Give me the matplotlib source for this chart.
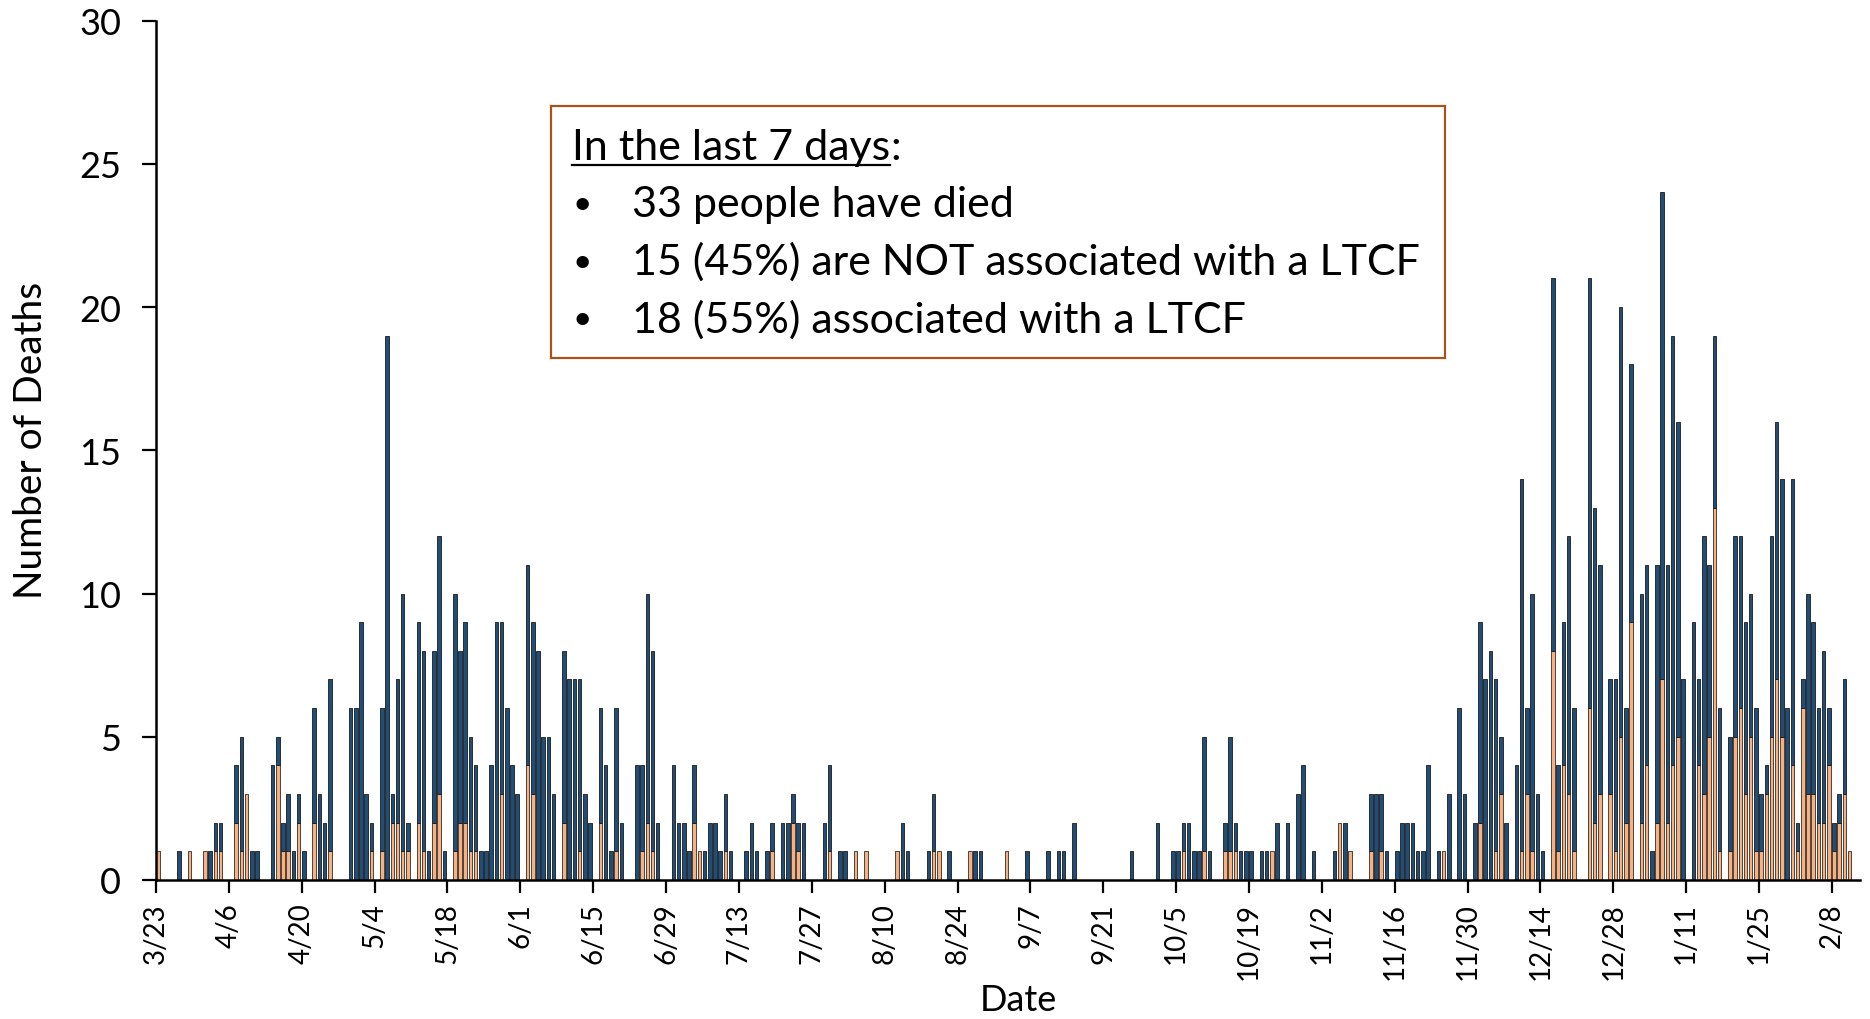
import matplotlib
matplotlib.use("Agg")
import matplotlib.pyplot as plt
from matplotlib.lines import Line2D
from matplotlib.patches import Rectangle
import numpy as np

plt.rcParams['font.family'] = ['Lato', 'DejaVu Sans']

# one row per two weeks, first row starts 3/23 (day 0)
# deaths NOT associated with a LTCF (orange, bottom of stack)
not_ltcf = [
    1, 0, 0, 0, 0, 0, 1, 0, 0, 1, 0, 1, 1, 0,
    0, 2, 1, 3, 0, 0, 0, 0, 0, 4, 1, 1, 0, 2,
    0, 0, 2, 0, 0, 1, 0, 0, 0, 0, 0, 0, 0, 1,
    0, 1, 0, 2, 2, 1, 1, 0, 2, 1, 0, 2, 3, 0,
    0, 1, 2, 2, 1, 1, 0, 0, 0, 0, 3, 0, 0, 0,
    0, 4, 3, 0, 0, 0, 0, 0, 2, 0, 0, 1, 0, 0,
    0, 2, 0, 0, 1, 0, 0, 0, 0, 1, 2, 1, 0, 0,
    0, 0, 0, 0, 0, 2, 1, 0, 0, 0, 0, 1, 0, 0,
    0, 0, 0, 0, 0, 0, 1, 0, 0, 0, 2, 1, 0, 0,
    0, 0, 0, 1, 0, 0, 0, 0, 1, 0, 1, 0, 0, 0,
    0, 0, 1, 0, 0, 0, 0, 0, 0, 1, 1, 0, 0, 0,
    0, 0, 1, 0, 0, 0, 0, 0, 0, 1, 0, 0, 0, 0,
    0, 0, 0, 0, 0, 0, 0, 0, 0, 0, 0, 0, 0, 0,
    0, 0, 0, 0, 0, 0, 0, 0, 0, 0, 0, 0, 0, 0,
    0, 1, 0, 0, 0, 1, 0, 0, 0, 1, 1, 1, 0, 0,
    0, 0, 0, 0, 1, 0, 0, 0, 0, 0, 0, 0, 0, 0,
    0, 0, 0, 2, 0, 1, 0, 0, 0, 1, 0, 1, 0, 0,
    0, 0, 0, 0, 0, 0, 0, 0, 0, 1, 0, 0, 0, 0,
    0, 0, 2, 0, 0, 1, 3, 0, 0, 0, 1, 3, 1, 0,
    0, 0, 8, 1, 4, 3, 1, 0, 0, 6, 2, 3, 0, 3,
    1, 5, 2, 9, 0, 2, 4, 0, 2, 7, 2, 4, 5, 0,
    0, 0, 4, 3, 5, 13, 1, 0, 1, 5, 6, 3, 5, 1,
    1, 3, 5, 7, 5, 0, 4, 1, 6, 3, 3, 2, 2, 4,
    1, 2, 3, 1,
]

# deaths associated with a LTCF (navy, top of stack)
ltcf = [
    0, 0, 0, 0, 1, 0, 0, 0, 0, 0, 1, 1, 1, 0,
    0, 2, 4, 0, 1, 1, 0, 0, 4, 1, 1, 2, 1, 1,
    1, 0, 4, 3, 2, 6, 0, 0, 0, 6, 6, 9, 3, 1,
    0, 5, 19, 1, 5, 9, 1, 0, 7, 7, 1, 6, 9, 1,
    0, 9, 6, 7, 4, 3, 1, 1, 4, 9, 6, 6, 4, 3,
    0, 7, 6, 8, 5, 5, 3, 0, 6, 7, 7, 6, 3, 2,
    0, 4, 4, 1, 5, 2, 0, 0, 4, 3, 8, 7, 2, 0,
    0, 4, 2, 2, 1, 2, 0, 1, 2, 2, 1, 2, 1, 0,
    0, 1, 2, 1, 0, 1, 1, 0, 2, 2, 1, 1, 2, 0,
    0, 0, 2, 3, 0, 1, 1, 0, 0, 0, 0, 0, 0, 0,
    0, 0, 0, 2, 1, 0, 0, 0, 1, 2, 0, 0, 1, 0,
    0, 0, 0, 1, 1, 0, 0, 0, 0, 0, 0, 0, 0, 1,
    0, 0, 0, 1, 0, 1, 1, 0, 2, 0, 0, 0, 0, 0,
    0, 0, 0, 0, 0, 1, 0, 0, 0, 0, 2, 0, 0, 1,
    1, 1, 2, 1, 1, 4, 1, 0, 0, 1, 4, 1, 1, 1,
    1, 0, 1, 1, 0, 2, 0, 2, 0, 3, 4, 0, 1, 0,
    0, 0, 1, 0, 2, 0, 0, 0, 0, 2, 3, 2, 1, 0,
    1, 2, 2, 2, 1, 1, 4, 0, 1, 0, 3, 0, 6, 3,
    0, 2, 7, 7, 8, 6, 2, 2, 0, 4, 13, 3, 9, 3,
    1, 0, 13, 3, 5, 9, 5, 0, 0, 15, 11, 8, 0, 4,
    6, 15, 4, 9, 0, 8, 7, 1, 9, 17, 9, 15, 11, 7,
    0, 9, 3, 9, 6, 6, 5, 0, 4, 7, 6, 6, 5, 5,
    2, 1, 7, 9, 9, 6, 10, 1, 1, 7, 6, 4, 6, 2,
    1, 1, 4, 0,
]

tick_labels = ['3/23', '4/6', '4/20', '5/4', '5/18', '6/1', '6/15', '6/29',
               '7/13', '7/27', '8/10', '8/24', '9/7', '9/21', '10/5', '10/19',
               '11/2', '11/16', '11/30', '12/14', '12/28', '1/11', '1/25', '2/8']

box_title = "In the last 7 days"
box_lines = ["33 people have died",
             "15 (45%) are NOT associated with a LTCF",
             "18 (55%) associated with a LTCF"]

NAVY = '#1F4E79'
ORANGE = '#F4B183'
W, H = 1870, 1020

fig = plt.figure(figsize=(W / 100, H / 100), dpi=100)
ax = fig.add_axes([156 / W, 139 / H, 1704 / W, 859.5 / H])

lo = np.array(not_ltcf)
hi = np.array(ltcf)
days = np.arange(len(lo)) + 0.4

# skip empty days so zero-height bars don't leave edge marks
m = lo > 0
ax.bar(days[m], lo[m], width=0.68, color=ORANGE, edgecolor='#3a2a20', linewidth=0.6, zorder=2)
m = hi > 0
ax.bar(days[m], hi[m], bottom=lo[m], width=0.68, color=NAVY, edgecolor='#1a1a1a', linewidth=0.6, zorder=2)

ax.set_xlim(0, 327.4)
ax.set_ylim(0, 30)
ax.set_yticks(range(0, 31, 5))
ax.set_xticks(np.arange(len(tick_labels)) * 14)
ax.set_xticklabels(tick_labels, rotation=90, fontsize=20)
ax.tick_params(axis='y', labelsize=26, length=10, width=1.6, pad=15, direction='out')
ax.tick_params(axis='x', length=9, width=1.6, pad=7, direction='out')

for s in ['top', 'right']:
    ax.spines[s].set_visible(False)
for s in ['left', 'bottom']:
    ax.spines[s].set_linewidth(1.8)

ax.set_ylabel("Number of Deaths", fontsize=28, labelpad=22)
ax.yaxis.label.set_y(0.512)
ax.set_xlabel("Date", fontsize=26, labelpad=3)
ax.xaxis.label.set_x(0.506)

# annotation box
fig.add_artist(Rectangle((551 / W, 1 - 359 / H), 894 / W, 252 / H, transform=fig.transFigure,
                         facecolor='white', edgecolor='#A5541E', linewidth=1.6, zorder=5))

FS = 31
t = fig.text(572 / W, 1 - 148 / H, box_title, fontsize=FS, va='center', ha='left', zorder=6)
fig.canvas.draw()
bb = t.get_window_extent()
fig.text(bb.x1 / W, 1 - 148 / H, ":", fontsize=FS, va='center', ha='left', zorder=6)
fig.add_artist(Line2D([bb.x0 / W, bb.x1 / W], [(bb.y0 + 1) / H] * 2, transform=fig.transFigure,
                      color='black', linewidth=1.6, zorder=6))

for i, line in enumerate(box_lines):
    y = 1 - (205 + 57.5 * i) / H
    fig.text(572 / W, y, "\u2022", fontsize=24, va='center', ha='left', zorder=6)
    fig.text(632 / W, y, line, fontsize=FS, va='center', ha='left', zorder=6)

fig.savefig("out.png", dpi=100)
